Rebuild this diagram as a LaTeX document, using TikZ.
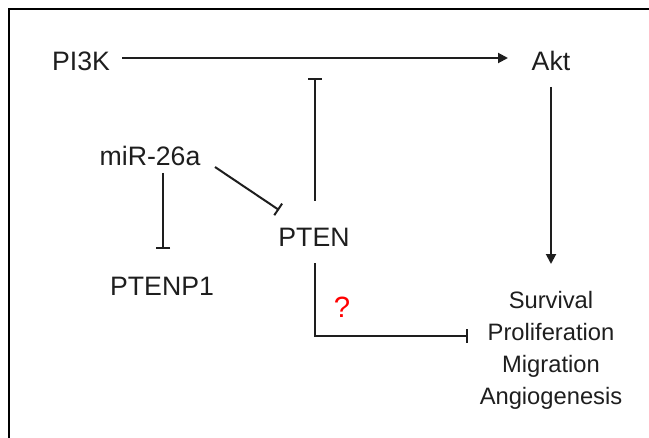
\documentclass[tikz,border=0pt]{standalone}
\usepackage{fontspec}
\setmainfont{Liberation Sans}
\usetikzlibrary{arrows.meta}
\definecolor{ink}{HTML}{1E1E1E}
\definecolor{qred}{HTML}{FF0000}
\begin{document}
\begin{tikzpicture}[x=0.75pt,y=-0.75pt,
  label/.style={inner sep=0pt, text=ink, font=\fontsize{20}{24}\selectfont},
  outlist/.style={inner sep=0pt, text=ink, align=center, font=\fontsize{17.8}{24}\selectfont},
  link/.style={draw=ink, line width=1.5pt},
  act/.style={link, -{Triangle[length=7.5pt, width=7.5pt]}},
  inh/.style={link, -{Bar[width=10.5pt, line width=1.5pt]}}]
\useasboundingbox (0,0) rectangle (649,438);
% frame edges
\draw[line width=2pt, black] (9,438) -- (9,9) -- (649,9);

% nodes
\node[label] (pi3k) at (81,61) {PI3K};
\node[label] (akt) at (551,61) {Akt};
\node[label] (mir) at (150,156) {miR-26a};
\node[label] (pten) at (314,237) {PTEN};
\node[label] (ptenp) at (162,286) {PTENP1};
\node[outlist] (out) at (551,350) {Survival\\Proliferation\\Migration\\Angiogenesis};
\node[text=qred, inner sep=0pt, font=\fontsize{22}{26}\selectfont] (q) at (342,307) {?};

% junction points
\coordinate (a1) at (122,58);
\coordinate (a2) at (508,58);
\coordinate (b1) at (551,87);
\coordinate (b2) at (551,264);
\coordinate (c1) at (315,201);
\coordinate (c2) at (315,78);
\coordinate (d1) at (163,173);
\coordinate (d2) at (163,249);
\coordinate (e1) at (215,167);
\coordinate (e2) at (279,210);
\coordinate (f1) at (315,263);
\coordinate (f2) at (315,336);
\coordinate (f3) at (468,336);

% connectors
\draw[act] (a1) -- (a2);
\draw[act] (b1) -- (b2);
\draw[inh] (c1) -- (c2);
\draw[inh] (d1) -- (d2);
\draw[inh] (e1) -- (e2);
\draw[inh] (f1) -- (f2) -- (f3);
\end{tikzpicture}
\end{document}
